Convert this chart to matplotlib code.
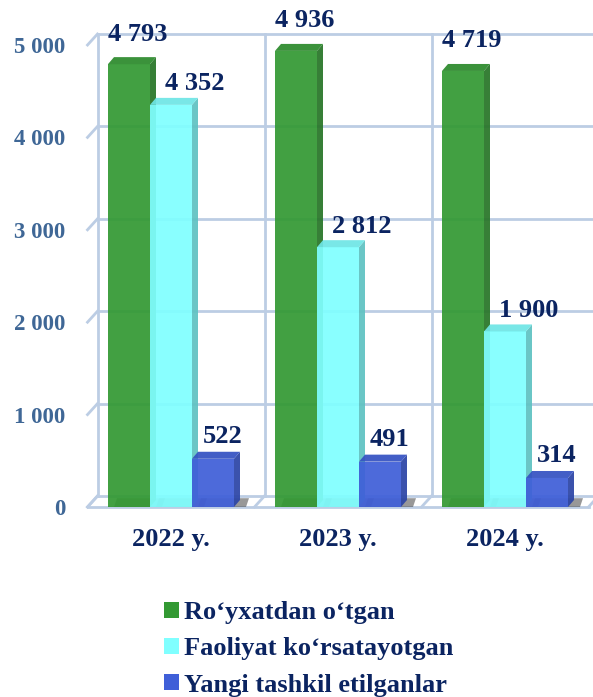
import matplotlib.pyplot as plt
from matplotlib.patches import Polygon, Patch
import numpy as np

# data
years = ['2022 y.', '2023 y.', '2024 y.']
registered = [4793, 4936, 4719]
active = [4352, 2812, 1900]
new_created = [522, 491, 314]
series_names = ['Ro\u2018yxatdan o\u2018tgan', 'Faoliyat ko\u2018rsatayotgan', 'Yangi tashkil etilganlar']
yticks = [0, 1000, 2000, 3000, 4000, 5000]


def fmt(v):
    return '{:,}'.format(v).replace(',', ' ')


def main():
    plt.rcParams['font.family'] = ['Liberation Serif', 'DejaVu Serif']
    plt.rcParams['font.weight'] = 'bold'

    navy = '#0B2461'
    grid_c = '#BCCDE4'
    face = ['#339933', '#80FFFF', '#3F5FD8']
    side = ['#287528', '#5FC2C2', '#2C45A6']
    top = ['#2C8A2C', '#6FE6E6', '#3452C2']
    lab_dx = [9, 24, 10]     # label offsets in pixels
    lab_dy = [30, 21, 22]

    fig = plt.figure(figsize=(5.93, 6.97), dpi=100)
    # pixel scale: 167 px per category, 92.4 px per 1000
    px_x = 1 / 167
    px_y = 1000 / 92.4
    x0, x1 = -0.55, 2.6
    y0, y1 = 0, 5300
    left = (171 + x0 * 167) / 593
    width = (x1 - x0) * 167 / 593
    bottom = 190 / 697
    height = (y1 - y0) / px_y / 697
    ax = fig.add_axes([left, bottom, width, height])
    ax.set_xlim(x0, x1)
    ax.set_ylim(y0, y1)

    DX, DY = 10 * px_x, 11 * px_y     # back wall offset
    bdx, bdy = 6 * px_x, 7 * px_y     # bar depth

    # back wall grid
    for t in yticks:
        ax.plot([-0.5 + DX, 2.5 + DX + 0.1], [t + DY, t + DY], color=grid_c, lw=2, zorder=1,
                clip_on=False)
        ax.plot([-0.5, -0.5 + DX], [t, t + DY], color=grid_c, lw=2, zorder=1, clip_on=False)
    for k in range(4):
        ax.plot([-0.5 + DX + k, -0.5 + DX + k], [DY, yticks[-1] + DY], color=grid_c, lw=2,
                zorder=1, clip_on=False)
        ax.plot([-0.5 + k, -0.5 + DX + k], [0, DY], color=grid_c, lw=2, zorder=1, clip_on=False)
    ax.plot([-0.5, 2.5], [0, 0], color=grid_c, lw=2, zorder=1, clip_on=False)

    x = np.arange(len(years))
    w = 42 * px_x
    series = [registered, active, new_created]
    for i in range(len(years)):
        for s in range(3):
            v = series[s][i]
            xa = x[i] + (s - 1) * w - w / 2
            xb = xa + w
            z = 3 + i * 0.5 + s * 0.1
            # floor shadow
            ax.add_patch(Polygon([(xa + bdx, 0), (xb + bdx * 2, 0), (xb + bdx * 2.5, DY * 0.8),
                                  (xa + bdx * 1.5, DY * 0.8)], closed=True,
                                 facecolor='#444444', alpha=0.55, lw=0, zorder=z - 0.05))
            ax.bar(xa, v, width=w, align='edge', color=face[s], alpha=0.93, lw=0, zorder=z)
            ax.add_patch(Polygon([(xb, 0), (xb + bdx, bdy), (xb + bdx, v + bdy), (xb, v)],
                                 closed=True, facecolor=side[s], alpha=0.93, lw=0, zorder=z))
            ax.add_patch(Polygon([(xa, v), (xa + bdx, v + bdy), (xb + bdx, v + bdy), (xb, v)],
                                 closed=True, facecolor=top[s], alpha=0.93, lw=0, zorder=z))
            ax.annotate(fmt(v), (x[i] + (s - 1) * w, v), xytext=(lab_dx[s], lab_dy[s]),
                        textcoords='offset pixels', ha='center', va='center',
                        fontsize=19, fontweight='bold', color=navy, zorder=10,
                        annotation_clip=False)

    for sp in ax.spines.values():
        sp.set_visible(False)
    ax.set_yticks(yticks)
    ax.set_yticklabels([fmt(t) for t in yticks], fontsize=16.5, fontweight='bold', color='#3F6796')
    ax.set_xticks(x)
    ax.set_xticklabels(years, fontsize=19, fontweight='bold', color=navy)
    ax.tick_params(axis='y', length=0, pad=10)
    ax.tick_params(axis='x', length=0, pad=15)

    handles = [Patch(facecolor=c, edgecolor='none') for c in face]
    fig.legend(handles, series_names, loc='upper left', bbox_to_anchor=(151 / 593, 1 - 588 / 697),
               frameon=False, handlelength=0.55, handleheight=0.55,
               handletextpad=0.2, labelspacing=0.5, borderpad=0, labelcolor=navy,
               prop={'weight': 'bold', 'size': 19})

    fig.savefig('out.png', dpi=100)


if __name__ == "__main__":
    main()
